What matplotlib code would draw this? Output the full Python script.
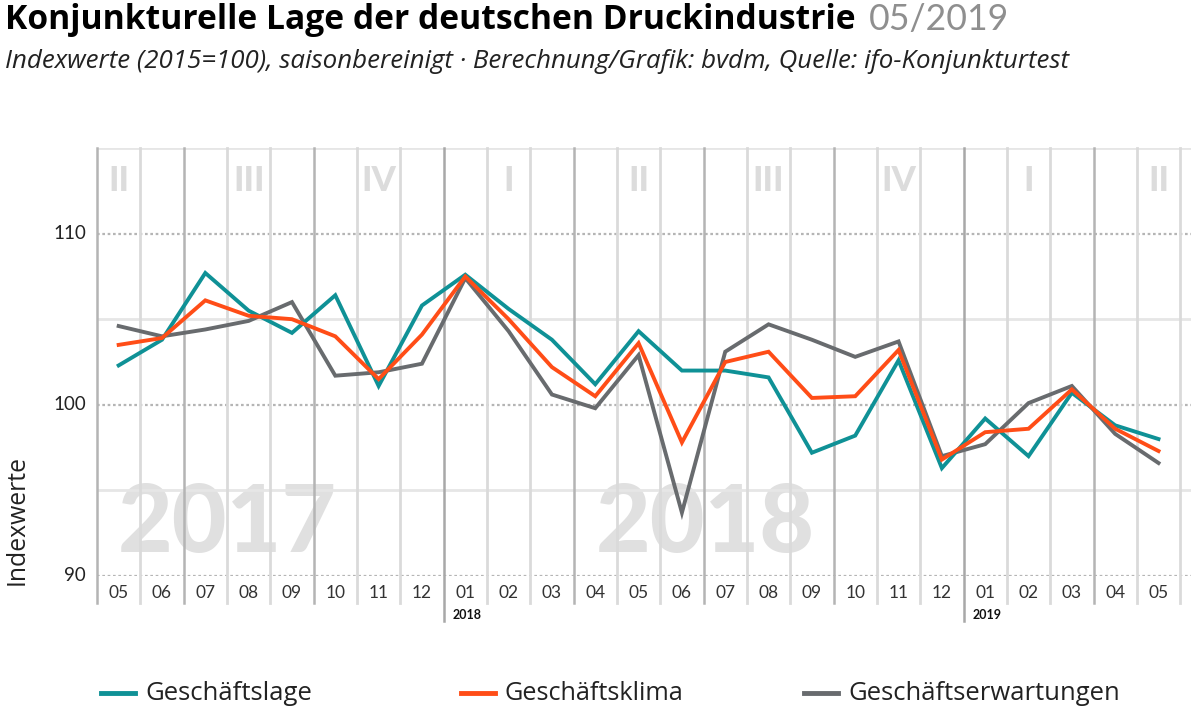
import matplotlib
matplotlib.use("Agg")
import matplotlib.pyplot as plt
import numpy as np

months = ["05", "06", "07", "08", "09", "10", "11", "12",
          "01", "02", "03", "04", "05", "06", "07", "08", "09", "10", "11", "12",
          "01", "02", "03", "04", "05"]
geschaeftslage = [102.3, 103.8, 107.7, 105.5, 104.2, 106.4, 101.1, 105.8, 107.6,
                  105.6, 103.8, 101.2, 104.3, 102.0, 102.0, 101.6, 97.2, 98.2, 102.6,
                  96.3, 99.2, 97.0, 100.7, 98.8, 98.0]
geschaeftsklima = [103.5, 103.9, 106.1, 105.2, 105.0, 104.0, 101.5, 104.1, 107.5,
                   105.0, 102.2, 100.5, 103.6, 97.8, 102.5, 103.1, 100.4, 100.5, 103.2,
                   96.8, 98.4, 98.6, 100.9, 98.6, 97.3]
geschaeftserwartungen = [104.6, 104.0, 104.4, 104.9, 106.0, 101.7, 101.9, 102.4, 107.4,
                         104.3, 100.6, 99.8, 102.9, 93.7, 103.1, 104.7, 103.8, 102.8, 103.7,
                         97.0, 97.7, 100.1, 101.1, 98.3, 96.6]
quarters = ["II", "III", "IV", "I", "II", "III", "IV", "I", "II"]
quarter_pos = [0, 3, 6, 9, 12, 15, 18, 21, 24]
year_labels = ["2018", "2019"]
year_start_idx = [8, 20]
watermarks = ["2017", "2018"]
watermark_pos = [2.5, 13.55]
yticks = [90, 100, 110]

c_lage = "#0f9196"
c_klima = "#ff4d17"
c_erw = "#686b6e"

FONT = ["Lato", "DejaVu Sans"]
WIDE = ["Open Sans", "DejaVu Sans"]
plt.rcParams["font.family"] = FONT

W, H = 1200, 712
fig = plt.figure(figsize=(12, 7.12), dpi=100)
fig.canvas.draw()
R = fig.canvas.get_renderer()


def fit_text(x0, x1, ypix, s, **kw):
    """Place text starting at pixel x0, sized so it ends at pixel x1."""
    t = fig.text(x0 / W, 1 - ypix / H, s, ha="left", va="center", fontsize=10, **kw)
    w = t.get_window_extent(R).width
    t.set_fontsize(10 * (x1 - x0) / w)
    return t


ax = fig.add_axes([97/W, (H-576)/H, (1191-97)/W, (576-148)/H])
n = len(months)
x = np.arange(n)
ax.set_xlim(-0.5, 24.75)
ax.set_ylim(90, 115)
ax.axis("off")

# horizontal grid
for v in [95, 105, 115]:
    ax.axhline(v, color="#e6e6e6", lw=2, zorder=1)
for v in yticks:
    ax.axhline(v, color="#b5b5b5", lw=1.6, ls=(0, (1.2, 1.2)), zorder=1)

# vertical month boundaries
for k in range(n + 1):
    b = k - 0.5
    is_year = k in year_start_idx
    quarter_boundary = (k % 3 == 2) or k == 0
    if is_year:
        ax.plot([b, b], [87.35, 115], color="#a8a8a8", lw=1.8, clip_on=False, zorder=1)
    elif quarter_boundary:
        ax.plot([b, b], [88.45, 115], color="#b4b4b4", lw=1.8, clip_on=False, zorder=1)
    else:
        ax.plot([b, b], [88.45, 115], color="#dadada", lw=2.0, clip_on=False, zorder=1)

# watermarks
for t, p in zip(watermarks, watermark_pos):
    ax.text(p, 93.0, t, ha="center", va="center", fontsize=68, fontweight="black",
            color="#e0e0e0", zorder=0)
for t, p in zip(quarters, quarter_pos):
    ax.text(p, 113.1, t, ha="center", va="center", fontsize=25, fontweight="black",
            color="#dcdcdc", zorder=0)

# lines
ax.plot(x, geschaeftserwartungen, color=c_erw, lw=2.8, zorder=3, solid_joinstyle="miter")
ax.plot(x, geschaeftslage, color=c_lage, lw=2.8, zorder=4, solid_joinstyle="miter")
ax.plot(x, geschaeftsklima, color=c_klima, lw=2.8, zorder=5, solid_joinstyle="miter")

# month labels
for i, m in enumerate(months):
    ax.text(i, 89.0, m, ha="center", va="center", fontsize=12.5, color="#333333",
            clip_on=False)
for t, i in zip(year_labels, year_start_idx):
    ax.text(i - 0.5 + 0.2, 87.7, t, ha="left", va="center", fontsize=9,
            fontweight="bold", color="#111111", clip_on=False)

# y tick labels
for v in yticks:
    ax.text(-0.75, v, str(v), ha="right", va="center", fontsize=13.5, color="#222222",
            clip_on=False)
yl = fig.text(17/W, 1 - 520/H, "Indexwerte", rotation=90, ha="center", va="center",
              fontsize=10, color="#222222", family=WIDE)
hgt = yl.get_window_extent(R).height
yl.set_fontsize(10 * 130 / hgt)

# title
fit_text(5, 860, 20, "Konjunkturelle Lage der deutschen Druckindustrie",
         fontweight="bold", color="#000000", family=WIDE)
fit_text(869, 1009, 20, "05/2019", fontweight="normal", color="#8f8f8f", family=FONT)
fit_text(5, 1068, 62,
         "Indexwerte (2015=100), saisonbereinigt · Berechnung/Grafik: bvdm, Quelle: ifo-Konjunkturtest",
         style="italic", color="#222222", family=WIDE)

# legend
legend_items = [("Geschäftslage", c_lage, 101, 145, 313),
                ("Geschäftsklima", c_klima, 461, 505, 685),
                ("Geschäftserwartungen", c_erw, 804, 848, 1120)]
ly = 693
for label, col, xp, tx0, tx1 in legend_items:
    fig.add_artist(plt.Line2D([xp/W, (xp+34)/W], [1 - ly/H, 1 - ly/H], color=col, lw=3.5))
    fit_text(tx0, tx1, ly, label, color="#222222", family=WIDE)

fig.savefig("out.png", dpi=100, facecolor="white")
